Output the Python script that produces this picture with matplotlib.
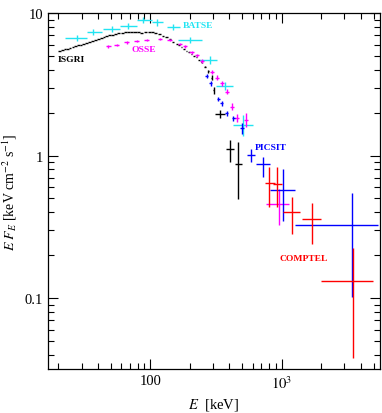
import numpy as np
import matplotlib
matplotlib.use('Agg')
import matplotlib.pyplot as plt
from matplotlib.ticker import FixedLocator, FuncFormatter, NullFormatter

plt.rcParams['font.family'] = 'serif'
plt.rcParams['font.serif'] = ['Liberation Serif', 'DejaVu Serif']
plt.rcParams['mathtext.fontset'] = 'stix'

# ISGRI (black), energies in keV, E F_E in keV cm^-2 s^-1
isgri_e = [20.5, 21.5, 22.5, 23.5, 24.6, 25.8, 27, 28.3, 29.7, 31.2, 32.8, 34.5, 36.3, 38.2,
           40.2, 42.3, 44.5, 46.8, 49.3, 52, 54.8, 57.8, 61, 64.4, 68, 72, 76.5, 81, 86,
           92, 98, 104, 110, 117, 125, 133,
           141, 150, 159, 166, 173, 181, 189, 197, 206, 215, 225, 235, 246, 261, 276, 293, 305,
           339, 404, 468]
isgri_f = [5.43, 5.5, 5.57, 5.63, 5.7, 5.78, 5.85, 5.93, 6.0, 6.09, 6.18, 6.27, 6.38, 6.48,
           6.58, 6.68, 6.78, 6.88, 6.97, 7.05, 7.13, 7.2, 7.26, 7.32, 7.38, 7.42, 7.4, 7.33, 7.3,
           7.42, 7.42, 7.35, 7.22, 7.1, 6.95, 6.8,
           6.55, 6.3, 6.08, 5.95, 5.8, 5.62, 5.46, 5.32, 5.17, 5.02, 4.88, 4.72, 4.5, 4.21, 3.89, 3.53, 2.88,
           1.96, 1.108, 0.878]
isgri_de = [0.5, 0.5, 0.5, 0.5, 0.55, 0.6, 0.65, 0.65, 0.7, 0.75, 0.8, 0.85, 0.9, 0.95,
            1.0, 1.05, 1.1, 1.2, 1.25, 1.35, 1.4, 1.5, 1.6, 1.7, 1.8, 2.0, 2.2, 2.2, 2.2,
            2.6, 2.6, 2.6, 2.6, 3, 3, 3,
            2.5, 2.5, 2.5, 2.5, 2.5, 2.5, 2.5, 2.5, 2.5, 2.5, 2.5, 2.5, 3, 3, 3, 3.5, 3,
            30, 29, 27]
isgri_lo = [0.0] * 48 + [0.06, 0.06, 0.08, 0.15, 0.16, 0.12, 0.205, 0.386]
isgri_hi = [0.0] * 48 + [0.06, 0.06, 0.08, 0.15, 0.17, 0.12, 0.172, 0.357]

# BATSE (cyan)
batse_e = [27.5, 36.8, 50.8, 68, 88.5, 111.9, 149.6, 200.4, 284.6, 370, 510]
batse_elo = [22.4, 32.8, 43.5, 58.8, 78.8, 102.5, 133.3, 163.3, 239, 316, 428.5]
batse_ehi = [32.8, 42.7, 58.8, 78.8, 102.5, 125.6, 168.2, 246, 320, 428.5, 601]
batse_f = [6.67, 7.35, 7.71, 8.14, 8.9, 8.6, 8.0, 6.48, 4.69, 3.10, 1.65]
batse_df = [0.35, 0.38, 0.4, 0.42, 0.45, 0.45, 0.42, 0.35, 0.27, 0.2, 0.28]

# OSSE (magenta)
osse_e = [47.9, 55.5, 66.1, 78.8, 93.9, 118.5, 141, 168.7, 183.6, 206.5, 225, 246,
          293, 320, 349, 381, 416, 454, 534, 953]
osse_f = [5.83, 5.98, 6.22, 6.38, 6.49, 6.56, 6.49, 6.08, 5.83, 5.31, 5.04, 4.61,
          3.88, 3.53, 3.21, 2.81, 2.20, 1.84, 1.78, 0.457]
osse_de = [2.2, 2.5, 3, 3.5, 4, 5, 6, 7, 7, 8, 8, 9, 10, 11, 12, 13, 14, 20, 22, 190]
osse_df = [0.1, 0.1, 0.11, 0.11, 0.11, 0.11, 0.12, 0.12, 0.12, 0.12, 0.12, 0.12,
           0.12, 0.12, 0.12, 0.12, 0.12, 0.13, 0.2, 0.13]

# PICSIT (blue)
picsit_e = [268, 288, 329, 349, 381, 428, 496, 581, 716, 1028, 3413]
picsit_elo = [260, 280, 320, 340, 371, 416, 480, 542, 637, 815, 1262]
picsit_ehi = [276, 296, 338, 358, 391, 440, 512, 627, 815, 1262, 5430]
picsit_f = [3.62, 3.21, 2.48, 2.32, 1.98, 1.82, 1.55, 1.016, 0.878, 0.570, 0.323]
picsit_flo = [3.5, 3.1, 2.4, 2.24, 1.91, 1.75, 1.42, 0.903, 0.708, 0.350, 0.101]
picsit_fhi = [3.74, 3.32, 2.56, 2.4, 2.05, 1.89, 1.7, 1.108, 0.979, 0.800, 0.549]

# COMPTEL (red)
comptel_e = [804, 926, 1205, 1710, 3508]
comptel_elo = [747, 853, 1019, 1419, 1991]
comptel_ehi = [889, 1000, 1377, 1983, 4977]
comptel_f = [0.645, 0.635, 0.401, 0.356, 0.132]
comptel_flo = [0.435, 0.435, 0.282, 0.240, 0.0382]
comptel_fhi = [0.832, 0.832, 0.512, 0.467, 0.225]

fig = plt.figure(figsize=(3.82, 4.14), dpi=100)
ax = fig.add_axes([0.125, 0.106, 0.870, 0.860])

lw = 1.0
ax.errorbar(isgri_e, isgri_f, xerr=isgri_de, yerr=[isgri_lo, isgri_hi],
            fmt='none', ecolor='black', elinewidth=lw, capsize=0)

be = np.array(batse_e)
ax.errorbar(be, batse_f, xerr=[be - np.array(batse_elo), np.array(batse_ehi) - be],
            yerr=batse_df, fmt='none', ecolor='#22e4f2', elinewidth=lw, capsize=0)

ax.errorbar(osse_e, osse_f, xerr=osse_de, yerr=osse_df,
            fmt='none', ecolor='#ff00ff', elinewidth=lw, capsize=0)

pe = np.array(picsit_e)
pf = np.array(picsit_f)
ax.errorbar(pe, pf, xerr=[pe - np.array(picsit_elo), np.array(picsit_ehi) - pe],
            yerr=[pf - np.array(picsit_flo), np.array(picsit_fhi) - pf],
            fmt='none', ecolor='#0000ff', elinewidth=lw, capsize=0)

ce = np.array(comptel_e)
cf = np.array(comptel_f)
ax.errorbar(ce, cf, xerr=[ce - np.array(comptel_elo), np.array(comptel_ehi) - ce],
            yerr=[cf - np.array(comptel_flo), np.array(comptel_fhi) - cf],
            fmt='none', ecolor='#ff0000', elinewidth=lw, capsize=0)

lab = dict(fontsize=6.8, fontweight='bold', ha='center', va='center')
ax.text(230, 8.23, 'BATSE', color='#22e4f2', **lab)
ax.text(89.6, 5.58, 'OSSE', color='#ff00ff', **lab)
ax.text(19.9, 4.74, 'ISGRI', color='black', fontsize=6.8, fontweight='bold', ha='left', va='center')
ax.text(829, 1.14, 'PICSIT', color='#0000ff', **lab)
ax.text(1479, 0.191, 'COMPTEL', color='#ff0000', **lab)

ax.set_xscale('log')
ax.set_yscale('log')
ax.set_xlim(16.6, 5600)
ax.set_ylim(0.0317, 10.0)

ax.xaxis.set_major_locator(FixedLocator([100, 1000]))
ax.xaxis.set_major_formatter(FuncFormatter(lambda v, p: '100' if v < 500 else r'$10^3$'))
ax.xaxis.set_minor_formatter(NullFormatter())
ax.yaxis.set_major_locator(FixedLocator([0.1, 1, 10]))
ax.yaxis.set_major_formatter(FuncFormatter(lambda v, p: {0.1: '0.1', 1: '1', 10: '10'}.get(round(v, 3), '')))
ax.yaxis.set_minor_formatter(NullFormatter())

ax.tick_params(which='both', direction='in', top=True, right=True, labelsize=10.5, width=0.8)
ax.tick_params(which='major', length=7)
ax.tick_params(which='minor', length=4)
for s in ax.spines.values():
    s.set_linewidth(0.9)

ax.set_xlabel(r'$E$  [keV]', fontsize=10.5)
ax.set_ylabel(r'$E\ F_E$ [keV cm$^{-2}$ s$^{-1}$]', fontsize=10)

fig.savefig('out.png', dpi=100)
